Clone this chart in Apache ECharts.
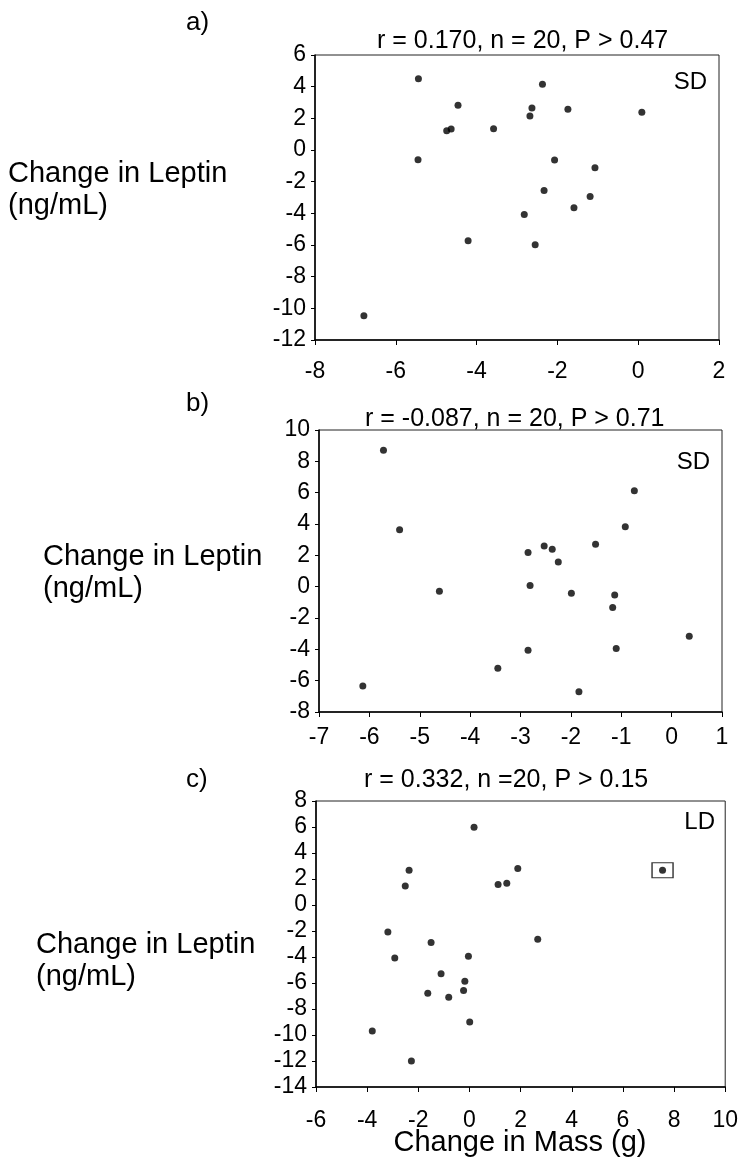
<!DOCTYPE html>
<html>
<head>
<meta charset="utf-8">
<title>Change in Leptin vs Change in Mass</title>
<script src="https://cdn.jsdelivr.net/npm/echarts@6/dist/echarts.min.js"></script>
<style>
    html, body { margin: 0; padding: 0; background: #fff; }
    #leptin_chart { width: 741px; height: 1165px; }
</style>
</head>
<body>
<div id="leptin_chart"></div>
<script>
// panel a) SD
var aMass = [-5.44, -4.46, -4.74, -4.63, -3.58, -2.68, -2.63, -2.37, -1.74, 0.09, -5.45, -2.07, -1.07, -2.33, -1.19, -2.82, -1.59, -4.21, -2.55, -6.79];
var aLeptin = [4.50, 2.82, 1.22, 1.33, 1.35, 2.15, 2.65, 4.15, 2.57, 2.38, -0.61, -0.63, -1.12, -2.55, -2.93, -4.07, -3.65, -5.73, -5.98, -10.47];
// panel b) SD
var bMass = [-5.72, -5.40, -0.74, -0.92, -2.85, -2.53, -2.37, -1.51, -2.25, -4.61, -2.81, -1.99, -1.13, -1.17, -1.10, -2.85, -3.45, -6.13, -1.84, 0.35];
var bLeptin = [8.71, 3.63, 6.12, 3.82, 2.18, 2.60, 2.39, 2.71, 1.58, -0.29, 0.07, -0.42, -0.53, -1.33, -3.95, -4.06, -5.21, -6.34, -6.70, -3.17];
// panel c) LD
var cMass = [0.18, -2.36, -2.51, 1.12, 1.46, 1.89, 7.55, -3.19, -1.50, 2.67, -2.92, -0.04, -1.11, -0.18, -0.23, -1.63, -0.81, 0.01, -3.80, -2.27];
var cLeptin = [5.98, 2.67, 1.46, 1.57, 1.67, 2.80, 2.67, -2.08, -2.89, -2.64, -4.08, -3.95, -5.28, -5.87, -6.58, -6.79, -7.10, -9.00, -9.69, -12.00];
var cBoxedIndex = 6; // point drawn inside a square in panel c

var panelTitles = ['r = 0.170, n = 20, P > 0.47', 'r = -0.087, n = 20, P > 0.71', 'r = 0.332, n =20, P > 0.15'];
var panelLetters = ['a)', 'b)', 'c)'];
var groupLabels = ['SD', 'SD', 'LD'];
var xRanges = [[-8, 2, 2], [-7, 1, 1], [-6, 10, 2]];
var yRanges = [[-12, 6, 2], [-8, 10, 2], [-14, 8, 2]];

function pairs(xs, ys) {
    var out = [];
    for (var i = 0; i < xs.length; i++) {
        out.push([xs[i], ys[i]]);
    }
    return out;
}

var FONT = '"Liberation Sans", Arial, sans-serif';

// grid boxes (pixels)
var grids = [
    { left: 315, top: 55, width: 404, height: 285 },
    { left: 319, top: 430, width: 403, height: 282 },
    { left: 316, top: 801, width: 411, height: 286 }
];
var xLabelMargin = [20, 14, 22];

var xAxes = [], yAxes = [], gridOpts = [];
for (var g = 0; g < 3; g++) {
    gridOpts.push({
        left: grids[g].left, top: grids[g].top, width: grids[g].width, height: grids[g].height,
        show: true, borderColor: '#222', borderWidth: 1, backgroundColor: 'rgba(0,0,0,0)'
    });
    xAxes.push({
        type: 'value', gridIndex: g, min: xRanges[g][0], max: xRanges[g][1], interval: xRanges[g][2],
        axisLine: { show: true, onZero: false, lineStyle: { color: '#000', width: 1.5 } },
        axisTick: { show: true, inside: false, length: 5, lineStyle: { color: '#000' } },
        splitLine: { show: false },
        axisLabel: { color: '#000', fontSize: 23, fontFamily: FONT, margin: xLabelMargin[g] }
    });
    yAxes.push({
        type: 'value', gridIndex: g, min: yRanges[g][0], max: yRanges[g][1], interval: yRanges[g][2],
        axisLine: { show: true, onZero: false, lineStyle: { color: '#000', width: 1.5 } },
        axisTick: { show: true, inside: false, length: 4, lineStyle: { color: '#000' } },
        splitLine: { show: false },
        axisLabel: { color: '#000', fontSize: 23, fontFamily: FONT, margin: 9 }
    });
}

var dotStyle = { color: '#000' };
var series = [
    { type: 'scatter', xAxisIndex: 0, yAxisIndex: 0, symbolSize: 7, itemStyle: dotStyle, data: pairs(aMass, aLeptin) },
    { type: 'scatter', xAxisIndex: 1, yAxisIndex: 1, symbolSize: 7, itemStyle: dotStyle, data: pairs(bMass, bLeptin) },
    { type: 'scatter', xAxisIndex: 2, yAxisIndex: 2, symbolSize: 7, itemStyle: dotStyle, data: pairs(cMass, cLeptin) },
    {
        type: 'scatter', xAxisIndex: 2, yAxisIndex: 2, symbol: 'rect', symbolSize: [21, 15], z: 1,
        itemStyle: { color: 'rgba(0,0,0,0)', borderColor: '#000', borderWidth: 1.2 },
        data: [[cMass[cBoxedIndex], cLeptin[cBoxedIndex]]]
    }
];

// text placed around the panels
var titleY = [41, 419, 780];
var titleX = [377, 365, 364];
var letterY = [23, 404, 780];
var groupY = [82, 462, 822];
var leptinLabelX = [8, 43, 36];
var leptinLabelY = [174, 557, 945];

var texts = [];
for (var p = 0; p < 3; p++) {
    texts.push({ type: 'text', style: { text: panelTitles[p], x: titleX[p], y: titleY[p], font: '25px ' + FONT, fill: '#000', align: 'left', verticalAlign: 'middle' } });
    texts.push({ type: 'text', style: { text: panelLetters[p], x: 186, y: letterY[p], font: '26px ' + FONT, fill: '#000', align: 'left', verticalAlign: 'middle' } });
    texts.push({ type: 'text', style: { text: groupLabels[p], x: grids[p].left + grids[p].width - 12, y: groupY[p], font: '24px ' + FONT, fill: '#000', align: 'right', verticalAlign: 'middle' } });
    texts.push({ type: 'text', style: { text: 'Change in Leptin', x: leptinLabelX[p], y: leptinLabelY[p], font: '29px ' + FONT, fill: '#000', align: 'left', verticalAlign: 'middle' } });
    texts.push({ type: 'text', style: { text: '(ng/mL)', x: leptinLabelX[p], y: leptinLabelY[p] + 32, font: '29px ' + FONT, fill: '#000', align: 'left', verticalAlign: 'middle' } });
}
texts.push({ type: 'text', style: { text: 'Change in Mass (g)', x: 520, y: 1143, font: '29px ' + FONT, fill: '#000', align: 'center', verticalAlign: 'middle' } });

var myChart = echarts.init(document.getElementById('leptin_chart'), null, { renderer: 'canvas' });
var option = {
    backgroundColor: '#fff',
    animation: false,
    grid: gridOpts,
    xAxis: xAxes,
    yAxis: yAxes,
    series: series,
    graphic: texts
};
myChart.setOption(option);
</script>
</body>
</html>
